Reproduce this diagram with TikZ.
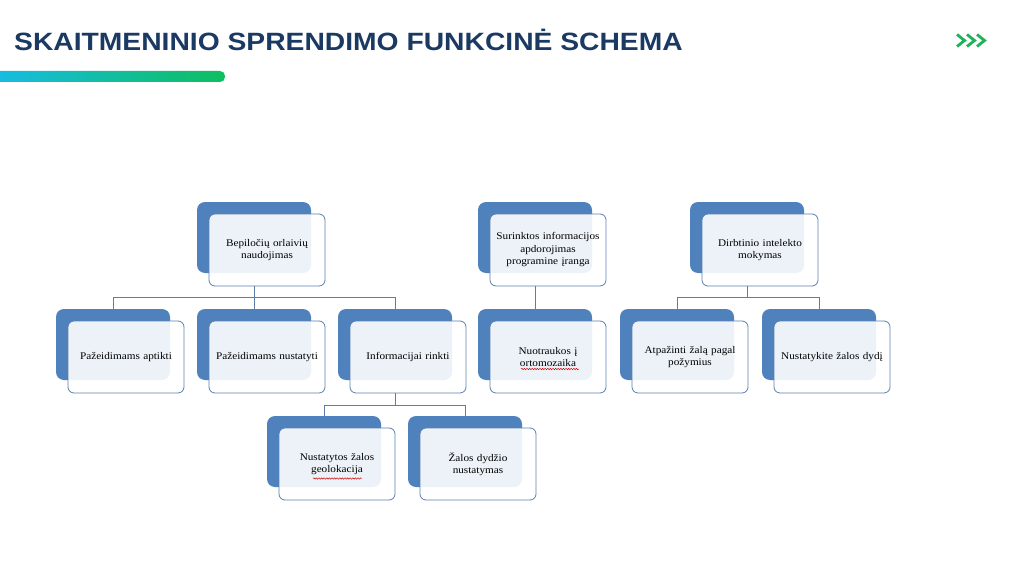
\documentclass[tikz,border=0pt]{standalone}
\usepackage{fontspec}
\setmainfont{Liberation Serif}[FakeStretch=1.1]
\newfontfamily\titlefont{Liberation Sans}[FakeStretch=1.13]
\usetikzlibrary{decorations.pathmorphing}
\definecolor{accent}{HTML}{4F81BD}
\definecolor{frontborder}{HTML}{5A80AE}
\definecolor{connc}{HTML}{5C7DA5}
\definecolor{titleblue}{HTML}{1A3A63}
\definecolor{chev}{HTML}{1FB25A}
\definecolor{barL}{HTML}{18BCE4}
\definecolor{barR}{HTML}{0CBF5F}
\newcommand{\smartbox}[4]{%
  \node[backbox, anchor=north west] (#1b) at (#2,#3) {};
  \node[frontbox, anchor=north west] (#1) at (#2+12,#3+12) {#4};
}
\begin{document}
\begin{tikzpicture}[x=1pt,y=-1pt,
  backbox/.style={rectangle, rounded corners=8pt, fill=accent, draw=none,
    minimum width=114pt, minimum height=71pt, inner sep=0pt, outer sep=0pt},
  frontbox/.style={rectangle, rounded corners=6pt, draw=frontborder, line width=0.8pt,
    fill=white, fill opacity=0.9, text opacity=1, minimum width=116pt, minimum height=72pt,
    text width=110pt, align=center, inner sep=0pt, outer sep=0pt,
    font=\fontsize{10.2}{12.5}\selectfont},
  conn/.style={draw=connc, line width=0.8pt},
  squig/.style={draw=red!80!black, line width=0.45pt,
    decorate, decoration={snake, amplitude=0.7pt, segment length=2.6pt}},
  chevron/.style={draw=chev, line width=2.8pt, line cap=butt, line join=miter}
]
\useasboundingbox (0,0) rectangle (1019,572);
\fill[white] (0,0) rectangle (1019,572);

% title
\node[anchor=base west, inner sep=0pt, text=titleblue,
  font=\titlefont\bfseries\fontsize{25}{30}\selectfont] (title) at (14,50.5)
  {SKAITMENINIO SPRENDIMO FUNKCINĖ SCHEMA};

% gradient bar
\shade[left color=barL, right color=barR, rounded corners=5pt] (-8,71) rectangle (225,82);

% chevrons
\draw[chevron] (957,34.5) -- (964.5,40.5) -- (957,46.5);
\draw[chevron] (967,34.5) -- (974.5,40.5) -- (967,46.5);
\draw[chevron] (977,34.5) -- (984.5,40.5) -- (977,46.5);

% boxes
\smartbox{bep}{197}{202}{Bepiločių orlaivių\\naudojimas}
\smartbox{sur}{478}{202}{Surinktos informacijos\\apdorojimas\\programine įranga}
\smartbox{dir}{690}{202}{Dirbtinio intelekto\\mokymas}

\smartbox{pa}{56}{309}{Pažeidimams aptikti}
\smartbox{pn}{197}{309}{Pažeidimams nustatyti}
\smartbox{ir}{338}{309}{Informacijai rinkti}
\smartbox{nuo}{478}{309}{Nuotraukos į\\ortomozaika}
\smartbox{atp}{620}{309}{Atpažinti žalą pagal\\požymius}
\smartbox{nzd}{762}{309}{Nustatykite žalos dydį}

\smartbox{geo}{267}{416}{Nustatytos žalos\\geolokacija}
\smartbox{zdn}{408}{416}{Žalos dydžio\\nustatymas}

% connectors
\coordinate (busA) at (0,297);
\coordinate (busC) at (0,297);
\coordinate (busI) at (0,405);

\draw[conn] (bepb.center |- bep.south) -- (bepb.center |- pnb.north);
\draw[conn] (pab.north) -- (pab.north |- busA) -- (irb.north |- busA) -- (irb.north);

\draw[conn] (surb.center |- sur.south) -- (nuob.north);

\draw[conn] (dirb.center |- dir.south) -- (dirb.center |- busC);
\draw[conn] (atpb.north) -- (atpb.north |- busC) -- (nzdb.north |- busC) -- (nzdb.north);

\draw[conn] (irb.center |- ir.south) -- (irb.center |- busI);
\draw[conn] (geob.north) -- (geob.north |- busI) -- (zdnb.north |- busI) -- (zdnb.north);

% spell-check squiggles
\draw[squig] (313,478.5) -- (362,478.5);
\draw[squig] (521,369) -- (579,369);
\end{tikzpicture}
\end{document}
